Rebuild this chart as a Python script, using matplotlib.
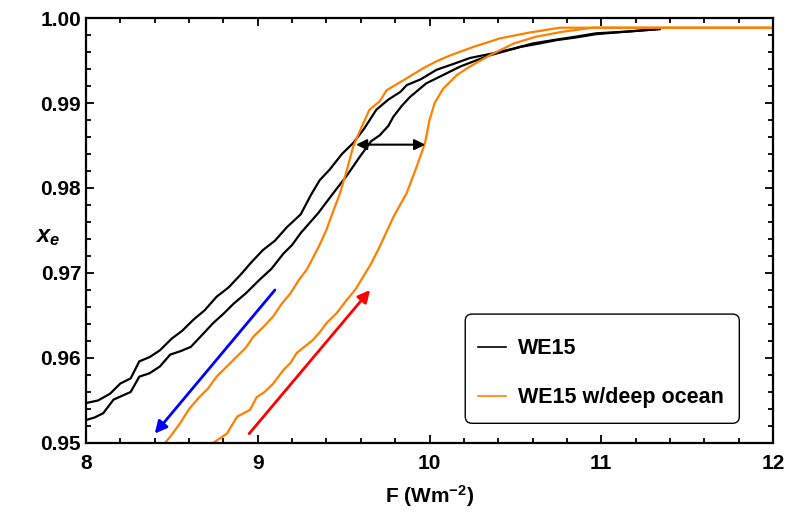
import numpy as np
import matplotlib
matplotlib.use('Agg')
import matplotlib.pyplot as plt
from matplotlib.lines import Line2D
from matplotlib.patches import FancyBboxPatch

plt.rcParams['font.family'] = ['Liberation Sans', 'DejaVu Sans']
plt.rcParams['font.weight'] = 'bold'
plt.rcParams['mathtext.fontset'] = 'custom'
plt.rcParams['mathtext.rm'] = 'Liberation Sans:bold'
plt.rcParams['mathtext.it'] = 'Liberation Sans:bold:italic'
plt.rcParams['mathtext.bf'] = 'Liberation Sans:bold'

ORANGE = '#ff8000'

# WE15, upper (cooling) branch
we15_a_x = [8.0, 8.07, 8.14, 8.2, 8.26, 8.31, 8.37, 8.43, 8.5, 8.56, 8.625, 8.69, 8.76, 8.83, 8.9, 8.96, 9.03,
            9.1, 9.17, 9.25, 9.31, 9.36, 9.42, 9.49, 9.556, 9.62, 9.69, 9.76, 9.83, 9.867, 9.95, 10.04,
            10.14, 10.236, 10.36, 10.49, 10.6, 10.72, 10.85, 10.97, 11.15, 11.34]
we15_a_y = [0.9547, 0.9550, 0.9558, 0.9570, 0.9576, 0.9596, 0.9601, 0.9609, 0.9623, 0.9632, 0.9645, 0.9656,
            0.9672, 0.9683, 0.9698, 0.9712, 0.9727, 0.9738, 0.9754, 0.9769, 0.9792, 0.9809, 0.9822, 0.9840,
            0.9853, 0.9870, 0.9892, 0.9904, 0.9913, 0.9921, 0.9928, 0.9939, 0.9946, 0.9953, 0.9958, 0.9964,
            0.9970, 0.9974, 0.9978, 0.9982, 0.9984, 0.9987]

# WE15, lower (warming) branch
we15_b_x = [8.0, 8.05, 8.10, 8.16, 8.26, 8.31, 8.37, 8.43, 8.49, 8.55, 8.61, 8.68, 8.74, 8.8, 8.86, 8.93, 9.01,
            9.08, 9.15, 9.2, 9.25, 9.35, 9.44, 9.52, 9.595, 9.66, 9.71, 9.76, 9.79, 9.84, 9.886, 9.98, 10.08,
            10.18, 10.27, 10.35, 10.44, 10.53, 10.64, 10.74, 10.85, 10.97, 11.15, 11.34]
we15_b_y = [0.9527, 0.9530, 0.9535, 0.9551, 0.9560, 0.9578, 0.9582, 0.9590, 0.9604, 0.9608, 0.9613, 0.9628,
            0.9641, 0.9652, 0.9664, 0.9676, 0.9692, 0.9705, 0.9723, 0.9733, 0.9747, 0.9770, 0.9794, 0.9815,
            0.9837, 0.9855, 0.9862, 0.9873, 0.9884, 0.9897, 0.9907, 0.9923, 0.9933, 0.9943, 0.9950, 0.9956,
            0.9961, 0.9966, 0.9970, 0.9974, 0.9977, 0.9981, 0.9984, 0.9987]

# WE15 with deep ocean, cooling branch
ocean_a_x = [8.46, 8.5, 8.547, 8.6, 8.66, 8.71, 8.76, 8.82, 8.88, 8.93, 8.974, 9.03, 9.09, 9.14, 9.19, 9.24,
             9.285, 9.314, 9.36, 9.40, 9.44, 9.479, 9.52, 9.556, 9.605, 9.65, 9.71, 9.75, 9.85, 9.964,
             10.04, 10.12, 10.255, 10.41, 10.585, 10.76, 12.0]
ocean_a_y = [0.9500, 0.9510, 0.9523, 0.9540, 0.9554, 0.9564, 0.9578, 0.9590, 0.9602, 0.9612, 0.9625, 0.9636,
             0.9649, 0.9664, 0.9676, 0.9692, 0.9704, 0.9715, 0.9733, 0.9751, 0.9773, 0.9794, 0.9822, 0.9849,
             0.9872, 0.9892, 0.9902, 0.9915, 0.9927, 0.9941, 0.9949, 0.9956, 0.9966, 0.9976, 0.9983,
             0.99886, 0.99886]

# WE15 with deep ocean, warming branch
ocean_b_x = [8.74, 8.82, 8.88, 8.955, 8.994, 9.04, 9.09, 9.15, 9.19, 9.227, 9.27, 9.32, 9.36, 9.40, 9.46,
             9.517, 9.57, 9.615, 9.66, 9.71, 9.79, 9.867, 9.925, 9.974, 10.0, 10.03, 10.08, 10.16, 10.236,
             10.35, 10.49, 10.62, 10.78, 10.95, 12.0]
ocean_b_y = [0.9500, 0.9511, 0.9531, 0.9539, 0.9554, 0.9560, 0.9570, 0.9586, 0.9594, 0.9606, 0.9613, 0.9621,
             0.9630, 0.9641, 0.9653, 0.9668, 0.9681, 0.9696, 0.9711, 0.9731, 0.9766, 0.9794, 0.9825, 0.9853,
             0.9880, 0.9900, 0.9917, 0.9933, 0.9943, 0.9956, 0.9970, 0.9978, 0.9984, 0.99886, 0.99886]

# arrows: hysteresis width, cooling direction, warming direction
width_arrow = [(9.975, 0.9851), (9.572, 0.9851)]
cool_arrow = [(9.10, 0.9680), (8.40, 0.9511)]
warm_arrow = [(8.95, 0.9511), (9.654, 0.9680)]

fig = plt.figure(figsize=(7.85, 5.13), dpi=100)
ax = fig.add_axes([0.1096, 0.1365, 0.8751, 0.8284])

ax.plot(we15_a_x, we15_a_y, color='black', lw=1.6)
ax.plot(we15_b_x, we15_b_y, color='black', lw=1.6)
ax.plot(ocean_a_x, ocean_a_y, color=ORANGE, lw=1.6)
ax.plot(ocean_b_x, ocean_b_y, color=ORANGE, lw=1.6)

ax.annotate('', xy=width_arrow[1], xytext=width_arrow[0],
            arrowprops=dict(arrowstyle='<|-|>', color='black', lw=1.5, mutation_scale=16, shrinkA=0, shrinkB=0))
ax.annotate('', xy=cool_arrow[1], xytext=cool_arrow[0],
            arrowprops=dict(arrowstyle='-|>', color='blue', lw=2, mutation_scale=18, shrinkA=0, shrinkB=0))
ax.annotate('', xy=warm_arrow[1], xytext=warm_arrow[0],
            arrowprops=dict(arrowstyle='-|>', color='red', lw=2, mutation_scale=18, shrinkA=0, shrinkB=0))

ax.set_xlim(8, 12)
ax.set_ylim(0.95, 1.00)
ax.set_xticks([8, 9, 10, 11, 12])
ax.set_yticks([0.95, 0.96, 0.97, 0.98, 0.99, 1.00])
ax.set_yticklabels(['0.95', '0.96', '0.97', '0.98', '0.99', '1.00'])
ax.set_xticks(np.arange(8, 12.01, 0.2), minor=True)
ax.set_yticks(np.arange(0.95, 1.0001, 0.002), minor=True)
ax.tick_params(which='both', direction='in', top=True, right=True, labelsize=15, width=1.3)
ax.tick_params(which='major', length=6)
ax.tick_params(which='minor', length=3.5)
ax.tick_params(axis='x', pad=8)
for s in ax.spines.values():
    s.set_linewidth(1.6)

ax.set_xlabel('F (Wm$^{-2}$)', fontsize=15, fontweight='bold', labelpad=7)
ax.set_ylabel('$x_e$', fontsize=17, rotation=0, va='center', ha='center')
ax.yaxis.set_label_coords(-0.056, 0.485)

# rounded legend box drawn separately so its padding can differ per side
box = FancyBboxPatch((0.552, 0.0463), 0.399, 0.257, boxstyle='round,pad=0,rounding_size=0.01',
                     mutation_aspect=687 / 425, transform=ax.transAxes, facecolor='white',
                     edgecolor='black', lw=1.0, zorder=4)
ax.add_patch(box)

handles = [Line2D([], [], color='black', lw=1.2), Line2D([], [], color=ORANGE, lw=1.2)]
leg = ax.legend(handles, ['WE15', 'WE15 w/deep ocean'], loc='upper left', bbox_to_anchor=(0.5706, 0.246),
                fontsize=15.5, frameon=False, borderpad=0, labelspacing=1.3, handlelength=1.3,
                handletextpad=0.55, borderaxespad=0)
leg.set_zorder(5)

fig.savefig('out.png', dpi=100)
